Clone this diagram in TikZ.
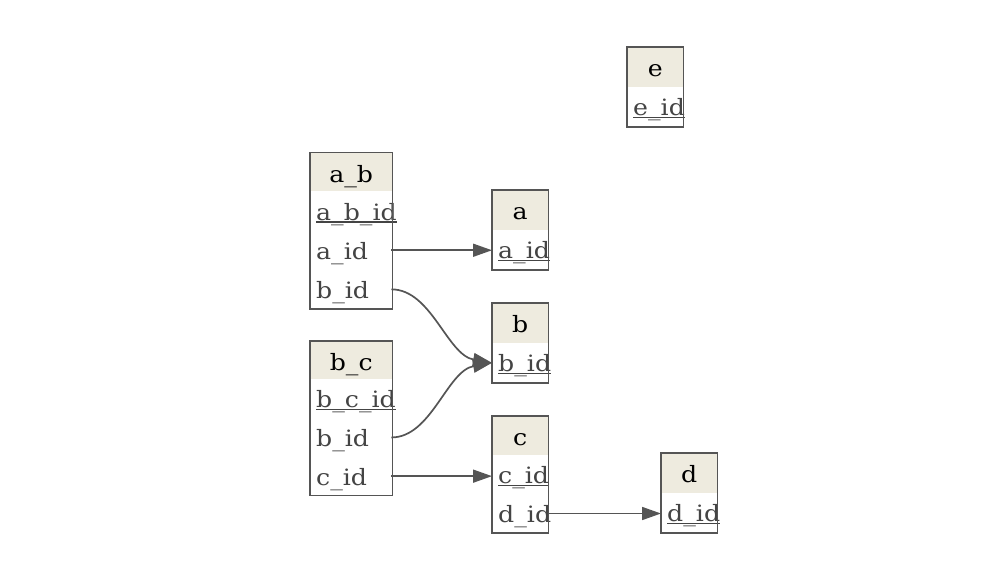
\documentclass[tikz,border=0pt]{standalone}
\usepackage{fontspec}
\setmainfont{DejaVu Serif}[FakeStretch=1.12]
\usetikzlibrary{arrows.meta}
\definecolor{hdrfill}{HTML}{EEEBDF}
\definecolor{linegray}{HTML}{555555}
\definecolor{rowtext}{HTML}{444444}
\newcommand\pk[1]{{\setbox0\hbox{#1}\rlap{\rule[-2.5pt]{\wd0}{1.2pt}}\box0}}
\begin{document}
\begin{tikzpicture}[x=1pt,y=-1pt,
  every node/.style={font=\fontsize{22.5}{26}\selectfont},
  hdr/.style={fill=hdrfill, text=black, inner sep=0pt, text height=20pt, text depth=0pt, anchor=north west},
  cell/.style={text width=#1, inner xsep=6pt, inner ysep=0pt, text=rowtext, text height=18pt, text depth=0pt, anchor=north west},
  frame/.style={draw=linegray, line width=1.8pt},
  fk/.style={draw=linegray, line width=1.7pt, -{Triangle[length=19pt,width=13pt]}}]
\useasboundingbox (0,0) rectangle (1000,580);
% a_b
\node[hdr, minimum width=82pt, minimum height=38.7pt] (ab) at (310,152.5) {a\_b};
\node[cell=70pt, minimum height=38.7pt] (ab_abid) at (ab.south west) {\rlap{\pk{a\_b\_id}}};
\node[cell=70pt, minimum height=38.7pt] (ab_aid) at (ab_abid.south west) {\rlap{a\_id}};
\node[cell=70pt, minimum height=38.7pt] (ab_bid) at (ab_aid.south west) {\rlap{b\_id}};
\draw[frame] (ab.north west) rectangle (ab_bid.south east);
% b_c
\node[hdr, minimum width=82pt, minimum height=38.3pt] (bc) at (310,340.7) {b\_c};
\node[cell=70pt, minimum height=38.3pt] (bc_bcid) at (bc.south west) {\rlap{\pk{b\_c\_id}}};
\node[cell=70pt, minimum height=38.3pt] (bc_bid) at (bc_bcid.south west) {\rlap{b\_id}};
\node[cell=70pt, minimum height=38.3pt] (bc_cid) at (bc_bid.south west) {\rlap{c\_id}};
\draw[frame] (bc.north west) rectangle (bc_cid.south east);
% a
\node[hdr, minimum width=56pt, minimum height=39.5pt] (a) at (492,190) {a};
\node[cell=44pt, minimum height=39.5pt] (a_aid) at (a.south west) {\rlap{\pk{a\_id}}};
\draw[frame] (a.north west) rectangle (a_aid.south east);
% b
\node[hdr, minimum width=56pt, minimum height=39.5pt] (b) at (492,303) {b};
\node[cell=44pt, minimum height=39.5pt] (b_bid) at (b.south west) {\rlap{\pk{b\_id}}};
\draw[frame] (b.north west) rectangle (b_bid.south east);
% c
\node[hdr, minimum width=56pt, minimum height=38.6pt] (c) at (492,416) {c};
\node[cell=44pt, minimum height=38.6pt] (c_cid) at (c.south west) {\rlap{\pk{c\_id}}};
\node[cell=44pt, minimum height=38.6pt] (c_did) at (c_cid.south west) {\rlap{d\_id}};
\draw[frame] (c.north west) rectangle (c_did.south east);
% d
\node[hdr, minimum width=56pt, minimum height=39.5pt] (d) at (661,453) {d};
\node[cell=44pt, minimum height=39.5pt] (d_did) at (d.south west) {\rlap{\pk{d\_id}}};
\draw[frame] (d.north west) rectangle (d_did.south east);
% e
\node[hdr, minimum width=56pt, minimum height=39.5pt] (e) at (627,47) {e};
\node[cell=44pt, minimum height=39.5pt] (e_eid) at (e.south west) {\rlap{\pk{e\_id}}};
\draw[frame] (e.north west) rectangle (e_eid.south east);
% edges
\draw[fk] ([xshift=-1pt]ab_aid.east) -- (ab_aid.east -| a_aid.west);
\draw[fk] ([xshift=-1pt]ab_bid.east) .. controls +(40,0) and +(-45,-8) .. (b_bid.west);
\draw[fk] ([xshift=-1pt]bc_bid.east) .. controls +(40,0) and +(-45,8) .. (b_bid.west);
\draw[fk] ([xshift=-1pt]bc_cid.east) -- (bc_cid.east -| c_cid.west);
\draw[fk] (c_did.east) -- (c_did.east -| d_did.west);
\end{tikzpicture}
\end{document}
